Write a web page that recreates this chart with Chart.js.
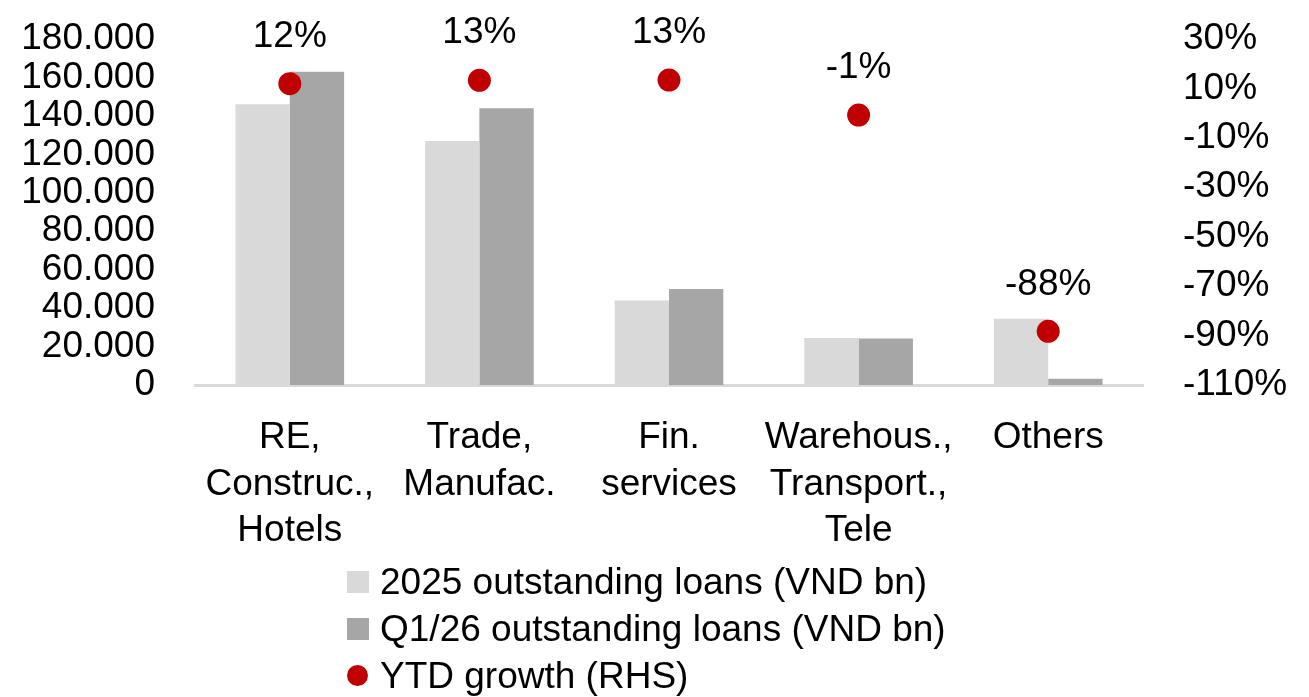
<!DOCTYPE html>
<html>
<head>
<meta charset="utf-8">
<script src="https://cdn.jsdelivr.net/npm/chart.js@4.4.1/dist/chart.umd.min.js"></script>
<style>
  html, body { margin: 0; padding: 0; background: #ffffff; }
  #wrap { position: relative; width: 1309px; height: 697px; overflow: hidden; }
  #c { position: absolute; left: 0; top: 0; }
  #legend { position: absolute; left: 347px; top: 558px; font-family: "Liberation Sans", Arial, sans-serif; font-size: 37px; color: #000; }
  .row { display: flex; align-items: center; height: 47px; white-space: nowrap; }
  .sw { width: 22px; height: 22px; flex: 0 0 22px; }
  .dot { width: 21px; height: 21px; border-radius: 50%; margin-right: 1px; flex: 0 0 21px; }
  .txt { margin-left: 11px; line-height: 47px; }
</style>
</head>
<body>
<div id="wrap">
  <canvas id="c" width="1309" height="697"></canvas>
  <div id="legend"></div>
</div>
<script>
// ---- Data ----
const categories = [
  ["RE,", "Construc.,", "Hotels"],
  ["Trade,", "Manufac."],
  ["Fin.", "services"],
  ["Warehous.,", "Transport.,", "Tele"],
  ["Others"]
];
const loans2025 = [146000, 127000, 44000, 24400, 34500];
const loansQ126 = [163000, 144000, 50000, 24200, 3200];
const ytdGrowth = [11.9, 13.3, 13.4, -0.8, -88.3];
const seriesNames = ["2025 outstanding loans (VND bn)", "Q1/26 outstanding loans (VND bn)", "YTD growth (RHS)"];
const leftTicks = [0, 20000, 40000, 60000, 80000, 100000, 120000, 140000, 160000, 180000];
const rightTicks = [-110, -90, -70, -50, -30, -10, 10, 30];

// ---- Styles ----
const FONT = '"Liberation Sans", Arial, sans-serif';
const FSIZE = 37;
const C2025 = '#d9d9d9';
const CQ1 = '#a6a6a6';
const CRED = '#c00000';

function fmtThousands(v) {
  if (v === 0) return '0';
  return String(v).replace(/\B(?=(\d{3})+(?!\d))/g, '.');
}

const pointLabels = {
  id: 'pointLabels',
  afterDatasetsDraw(chart) {
    const ctx = chart.ctx;
    chart.data.datasets.forEach((ds, di) => {
      if (ds.type !== 'line') return;
      const meta = chart.getDatasetMeta(di);
      ctx.save();
      ctx.font = FSIZE + 'px ' + FONT;
      ctx.fillStyle = '#000';
      ctx.textAlign = 'center';
      ctx.textBaseline = 'middle';
      meta.data.forEach((pt, i) => {
        const v = ds.data[i];
        ctx.fillText(Math.round(v) + '%', pt.x, pt.y - 47);
      });
      ctx.restore();
    });
  }
};

const ctx = document.getElementById('c').getContext('2d');
const chart = new Chart(ctx, {
  data: {
    labels: categories,
    datasets: [
      {
        type: 'bar', label: seriesNames[0], data: loans2025, backgroundColor: C2025,
        borderWidth: 0, yAxisID: 'y', order: 2,
        categoryPercentage: 0.573, barPercentage: 1.0
      },
      {
        type: 'bar', label: seriesNames[1], data: loansQ126, backgroundColor: CQ1,
        borderWidth: 0, yAxisID: 'y', order: 2,
        categoryPercentage: 0.573, barPercentage: 1.0
      },
      {
        type: 'line', label: seriesNames[2], data: ytdGrowth, yAxisID: 'y1', order: 0,
        showLine: false, pointRadius: 11.5, pointHoverRadius: 11.5,
        pointBackgroundColor: CRED, pointBorderWidth: 0, backgroundColor: CRED, borderColor: CRED
      }
    ]
  },
  options: {
    responsive: false,
    animation: false,
    devicePixelRatio: 1,
    layout: { autoPadding: false, padding: { top: 39, left: 0, right: 0, bottom: 152 } },
    plugins: { legend: { display: false }, tooltip: { enabled: false } },
    scales: {
      x: {
        type: 'category',
        offset: true,
        grid: { display: false, drawTicks: false },
        border: { display: true, color: '#d9d9d9', width: 3 },
        ticks: {
          color: '#000', font: { family: FONT, size: FSIZE, lineHeight: 1.25 },
          padding: 30, maxRotation: 0, autoSkip: false
        },
        afterFit(s) { s.height = 160; s.paddingLeft = 0; s.paddingRight = 0; }
      },
      y: {
        position: 'left',
        min: 0, max: 180000,
        grid: { display: false, drawTicks: false },
        border: { display: false },
        afterBuildTicks(s) { s.ticks = leftTicks.map(v => ({ value: v })); },
        ticks: {
          color: '#000', font: { family: FONT, size: FSIZE }, padding: 40, autoSkip: false,
          callback: (v) => fmtThousands(v)
        },
        afterFit(s) { s.width = 195; s.paddingTop = 0; s.paddingBottom = 0; }
      },
      y1: {
        position: 'right',
        min: -110, max: 30,
        grid: { display: false, drawTicks: false },
        border: { display: false },
        afterBuildTicks(s) { s.ticks = rightTicks.map(v => ({ value: v })); },
        ticks: {
          color: '#000', font: { family: FONT, size: FSIZE }, padding: 40, autoSkip: false,
          callback: (v) => v + '%'
        },
        afterFit(s) { s.width = 166; s.paddingTop = 0; s.paddingBottom = 0; }
      }
    }
  },
  plugins: [pointLabels]
});

// ---- HTML legend built from the datasets ----
const legendEl = document.getElementById('legend');
chart.data.datasets.forEach((ds) => {
  const row = document.createElement('div');
  row.className = 'row';
  const sw = document.createElement('div');
  if (ds.type === 'line') {
    sw.className = 'dot';
    sw.style.background = ds.pointBackgroundColor;
  } else {
    sw.className = 'sw';
    sw.style.background = ds.backgroundColor;
  }
  const t = document.createElement('div');
  t.className = 'txt';
  t.textContent = ds.label;
  row.appendChild(sw);
  row.appendChild(t);
  legendEl.appendChild(row);
});
</script>
</body>
</html>
